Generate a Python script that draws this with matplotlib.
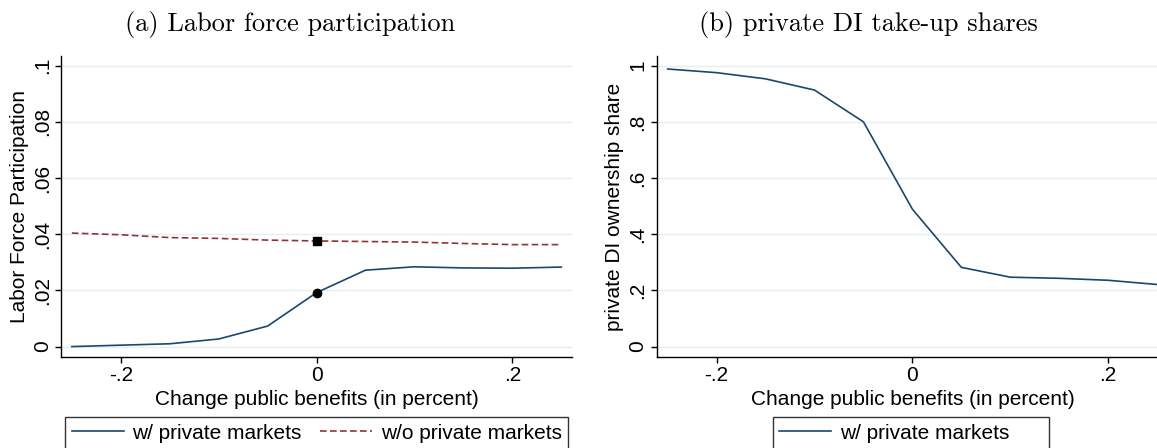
import numpy as np
import matplotlib
matplotlib.use("Agg")
import matplotlib.pyplot as plt

# change in public benefits
x = [-0.25, -0.20, -0.15, -0.10, -0.05, 0.0, 0.05, 0.10, 0.15, 0.20, 0.25]

# panel (a): labor force participation
lfp_with = [0.0000, 0.0005, 0.0010, 0.0027, 0.0073, 0.0192, 0.0272, 0.0284, 0.0280, 0.0279, 0.0283]
lfp_without = [0.0404, 0.0398, 0.0388, 0.0385, 0.0379, 0.0376, 0.0374, 0.0372, 0.0367, 0.0363, 0.0363]
base_with = 0.0192
base_without = 0.0376

# panel (b): private DI ownership share
di_share = [0.988, 0.975, 0.953, 0.913, 0.800, 0.489, 0.282, 0.247, 0.243, 0.236, 0.221]

xticks = [-0.2, 0.0, 0.2]
xtick_labels = ["-.2", "0", ".2"]
yticks_a = [0, 0.02, 0.04, 0.06, 0.08, 0.1]
ytick_labels_a = ["0", ".02", ".04", ".06", ".08", ".1"]
yticks_b = [0, 0.2, 0.4, 0.6, 0.8, 1.0]
ytick_labels_b = ["0", ".2", ".4", ".6", ".8", "1"]

navy = "#1a476f"
maroon = "#90353b"
grid_col = "#e6eef0"

plt.rcParams["font.family"] = ["Liberation Sans", "DejaVu Sans"]
fs = 15

fig = plt.figure(figsize=(11.57, 4.48), dpi=100)
ax1 = fig.add_axes([0.0531, 0.2038, 0.441, 0.671])
ax2 = fig.add_axes([0.5681, 0.2038, 0.441, 0.671])


def style(ax, yticks, ylabels, ylim, ylabel):
    ax.set_xlim(-0.2606, 0.2606)
    ax.set_ylim(*ylim)
    ax.set_xticks(xticks)
    ax.set_xticklabels(xtick_labels, fontsize=fs)
    ax.set_yticks(yticks)
    ax.set_yticklabels(ylabels, fontsize=fs, rotation=90, va="center")
    for s in ["top", "right"]:
        ax.spines[s].set_visible(False)
    for s in ["left", "bottom"]:
        ax.spines[s].set_linewidth(1.0)
    ax.tick_params(direction="out", length=4, width=1.0, pad=3)
    ax.grid(axis="y", color=grid_col, linewidth=1.0)
    ax.set_axisbelow(True)
    ax.set_xlabel("Change public benefits (in percent)", fontsize=fs, labelpad=3)
    ax.set_ylabel(ylabel, fontsize=fs, labelpad=3)


ax1.plot(x, lfp_with, color=navy, lw=1.2, label="w/ private markets")
ax1.plot(x, lfp_without, color=maroon, lw=1.2, dashes=(4, 2), label="w/o private markets")
ax1.plot([0.0], [base_with], "o", color="black", ms=6, zorder=5)
ax1.plot([0.0], [base_without], "s", color="black", ms=6, zorder=5)
style(ax1, yticks_a, ytick_labels_a, (-0.0036, 0.1034), "Labor Force Participation")

ax2.plot(x, di_share, color=navy, lw=1.2, label="w/ private markets")
style(ax2, yticks_b, ytick_labels_b, (-0.036, 1.034), "private DI ownership share")

leg_kw = dict(fontsize=fs, frameon=True, fancybox=False,
              edgecolor="black", handlelength=2.5, handletextpad=0.4,
              columnspacing=0.9, borderpad=0.3, borderaxespad=0)
l1 = ax1.legend(ncol=2, loc="upper center", bbox_to_anchor=(0.5, -0.202), **leg_kw)
l1.get_frame().set_linewidth(1.0)
l2 = ax2.legend(ncol=1, loc="upper left", mode="expand",
                bbox_to_anchor=(0.2268, -0.202, 0.541, 0), **leg_kw)
l2.get_frame().set_linewidth(1.0)

fig.text(290 / 1157, 1 - 24 / 448, "(a) Labor force participation", family="cmr10",
         fontsize=19, ha="center", va="center")
fig.text(868 / 1157, 1 - 24 / 448, "(b) private DI take-up shares", family="cmr10",
         fontsize=19, ha="center", va="center")

fig.savefig("out.png", dpi=100)
